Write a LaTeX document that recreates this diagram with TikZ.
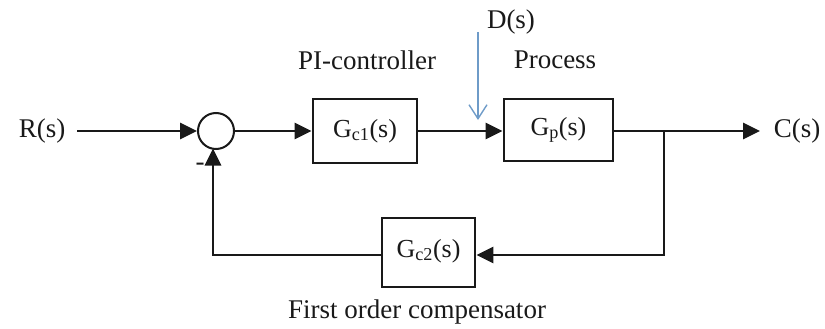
\documentclass[tikz,border=0pt]{standalone}
\usepackage{fontspec}
\setmainfont{Liberation Serif}
\usetikzlibrary{arrows.meta,calc}
\definecolor{dist}{RGB}{110,155,200}
\definecolor{ink}{RGB}{25,25,25}
\begin{document}
\begin{tikzpicture}[x=1pt,y=-1pt,
  txt/.style={font=\fontsize{27pt}{32pt}\selectfont, text=ink, inner sep=0pt},
  blk/.style={draw=ink, line width=2.8pt, inner sep=0pt, font=\fontsize{26pt}{32pt}\selectfont, text=ink},
  sig/.style={draw=ink, line width=2.8pt},
  arr/.style={sig, -{Triangle[length=17pt,width=16pt]}},
  darr/.style={draw=dist, line width=1.4pt, -{Straight Barb[length=14pt,width=18pt,line width=1.4pt]}}]
\useasboundingbox (0,0) rectangle (825,329);
% nodes
\node[txt] (R) at (42,131) {R(s)};
\node[draw=ink, line width=2pt, circle, minimum size=36pt, inner sep=0pt] (sum) at (216,131) {};
\node[blk, minimum width=104pt, minimum height=64pt] (gc1) at (365,131) {G\textsubscript{c1}(s)};
\node[blk, minimum width=109pt, minimum height=62pt] (gp) at (558.5,130) {G\textsubscript{p}(s)};
\node[blk, minimum width=93pt, minimum height=69pt] (gc2) at (428.5,252.5) {\raisebox{9pt}{G\textsubscript{c2}(s)}};
\node[txt] (C) at (797,131) {C(s)};
\node[txt] (D) at (511,22) {D(s)};
\node[txt] (pi) at (367,60) {PI-controller};
\node[txt] (proc) at (555,60) {Process};
\node[txt] (foc) at (417,312) {First order compensator};
\node[txt] (minus) at (200,167) {-};
\coordinate (dtop) at (478,32);
\coordinate (dbot) at (478,120);
\coordinate (br) at (664,131);
\coordinate (brb) at (664,255);
\coordinate (fbl) at (213,255);
\coordinate (fbt) at (213,148.5);
\coordinate (cend) at (760,131);
% connectors
\draw[arr] (R.east) ++(12,0) -- (sum.west);
\draw[arr] (sum.east) -- (gc1.west |- sum.east);
\draw[arr] (gc1.east |- 0,131) -- (gp.west |- 0,131);
\draw[arr] (gp.east |- 0,131) -- (cend);
\draw[arr] (br) -- (brb) -- (gc2.east |- brb);
\draw[arr] (gc2.west |- brb) -- (fbl) -- (fbt);
\draw[darr] (dtop) -- (dbot);
\end{tikzpicture}
\end{document}
